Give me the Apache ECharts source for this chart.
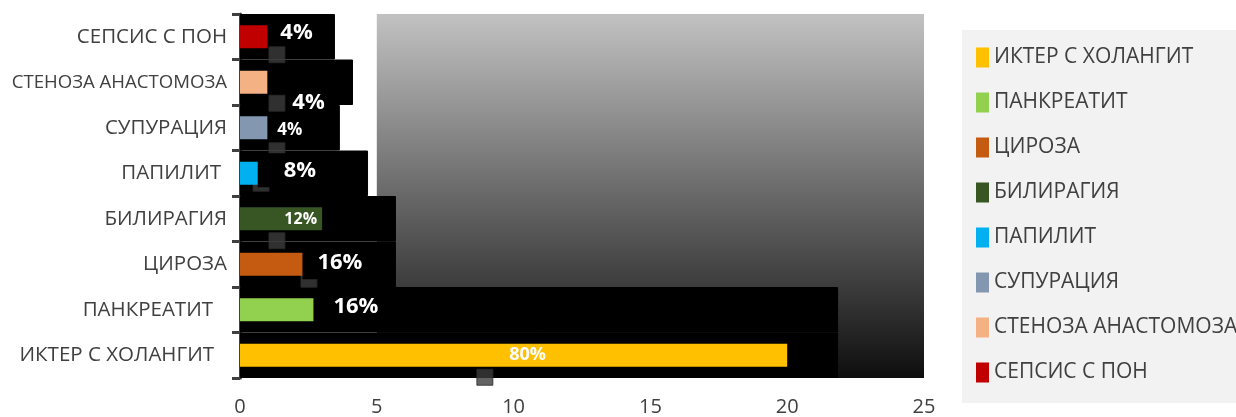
<!DOCTYPE html>
<html><head><meta charset="utf-8">
<script src="https://cdn.jsdelivr.net/npm/echarts@6/dist/echarts.min.js"></script>
<style>html,body{margin:0;padding:0;background:#fff}#c{width:1236px;height:417px}</style>
</head><body><div id="c"></div>
<script>
// categories bottom -> top
const categories = ['ИКТЕР С ХОЛАНГИТ','ПАНКРЕАТИТ','ЦИРОЗА','БИЛИРАГИЯ','ПАПИЛИТ','СУПУРАЦИЯ','СТЕНОЗА АНАСТОМОЗА','СЕПСИС С ПОН'];
const values = [20, 4, 4, 3, 2, 1, 1, 1];
const percentLabels = ['80%','16%','16%','12%','8%','4%','4%','4%'];
// extents of the black label-box blocks, read in axis units
const boxExtents = [21.86, 21.86, 5.7, 5.7, 4.68, 3.65, 4.13, 3.47];
// small grey anchor squares, x in axis units
const anchorX = [8.95, 3.1, 2.52, 1.35, 0.77, 1.35, 1.35, 1.35];
const xTicks = [0, 5, 10, 15, 20, 25];
const colors = ['#ffc000','#92d050','#c55a11','#375623','#00b0f0','#8497b0','#f4b183','#c00000'];

// styling (not data)
const labelStyle = [
  {position:'inside', offset:[14,0], fontSize:18},
  {position:'right', offset:[-41,-3], fontSize:22, bg:true, padding:[6,4,6,20]},
  {position:'right', offset:[-52,-2], fontSize:22, bg:true, padding:[6,4,6,15]},
  {position:'insideRight', offset:[0,1], fontSize:16},
  {position:'right', offset:[-42,-3], fontSize:22, bg:true, padding:[6,4,6,26]},
  {position:'right', offset:[5,2], fontSize:17},
  {position:'right', offset:[20,20], fontSize:22},
  {position:'right', offset:[8,-4], fontSize:22}
];
const anchorDy = [22, 2, 15, 22, 10, 23, 21, 18];
const catLabelRich = {
  'ИКТЕР С ХОЛАНГИТ':'r13', 'ПАНКРЕАТИТ':'r14', 'ПАПИЛИТ':'r6', 'СТЕНОЗА АНАСТОМОЗА':'sm'
};

const FONT = 'Open Sans';
const chart = echarts.init(document.getElementById('c'));

const series = [];
series.push({
  name:'bg', type:'line', data:[], xAxisIndex:0, yAxisIndex:0, z:0, silent:true,
  markArea:{ silent:true, z:0,
    itemStyle:{ color:{type:'linear',x:0,y:0,x2:0,y2:1,colorStops:[{offset:0,color:'#c2c2c2'},{offset:1,color:'#0e0e0e'}]} },
    data:[[{xAxis:5},{xAxis:25}]] }
});
series.push({
  name:'boxes', type:'bar', xAxisIndex:1, yAxisIndex:1, z:1, silent:true,
  barWidth:'100%', itemStyle:{color:'#000', borderColor:'#000', borderWidth:1}, data: boxExtents
});
series.push({
  name:'anchors', type:'scatter', xAxisIndex:0, yAxisIndex:0, z:1.5, silent:true,
  symbol:'rect', symbolSize:16,
  itemStyle:{color:'#3c3c3c', borderColor:'#2a2a2a', borderWidth:1},
  data: anchorX.map((x,i)=>({value:[x, categories[i]], symbolOffset:[0, anchorDy[i]]}))
});
categories.forEach((c,i)=>{
  const d = categories.map((_,j)=> j===i ? values[i] : '-');
  const ls = labelStyle[i];
  const label = {show:true, position:ls.position, offset:ls.offset,
      formatter:()=>percentLabels[i], color:'#fff', fontWeight:'bold',
      fontSize:ls.fontSize, fontFamily:FONT};
  if (ls.bg) { label.backgroundColor = '#000'; label.padding = ls.padding; }
  series.push({
    name:c, type:'bar', stack:'all', z:2, barWidth:23,
    itemStyle:{color:colors[i]}, label:label, data:d
  });
});

chart.setOption({
  animation:false,
  grid:{left:240, right:312, top:14, bottom:39, containLabel:false, outerBoundsMode:'none'},
  legend:{
    data:categories, orient:'vertical', left:962, top:30,
    backgroundColor:'#f2f2f2', padding:[17,40,20,14],
    itemWidth:13, itemHeight:20, itemGap:24, icon:'rect',
    textStyle:{fontSize:21, color:'#404040', fontFamily:FONT}
  },
  xAxis:[
    {type:'value', min:0, max:25, interval:5, axisLine:{show:false}, axisTick:{show:false}, splitLine:{show:false},
     axisLabel:{fontSize:20, color:'#404040', margin:19, fontFamily:FONT, formatter:v=>xTicks.includes(v)?String(v):''}},
    {type:'value', min:0, max:25, show:false}
  ],
  yAxis:[
    {type:'category', data:categories,
     axisLine:{show:true, lineStyle:{color:'#404040', width:3}},
     axisTick:{show:true, length:8, interval:0, lineStyle:{color:'#404040', width:3}},
     axisLabel:{fontSize:20.5, color:'#404040', margin:13, fontFamily:FONT, interval:0,
       formatter:v=>catLabelRich[v] ? '{'+catLabelRich[v]+'|'+v+'}' : v,
       rich:{
         r13:{fontSize:20.5, color:'#404040', fontFamily:FONT, padding:[0,13,0,0]},
         r14:{fontSize:20.5, color:'#404040', fontFamily:FONT, padding:[0,14,0,0]},
         r6:{fontSize:20.5, color:'#404040', fontFamily:FONT, padding:[0,6,0,0]},
         sm:{fontSize:18.6, color:'#404040', fontFamily:FONT}
       }}},
    {type:'category', data:categories, show:false}
  ],
  series:series
});
</script></body></html>
